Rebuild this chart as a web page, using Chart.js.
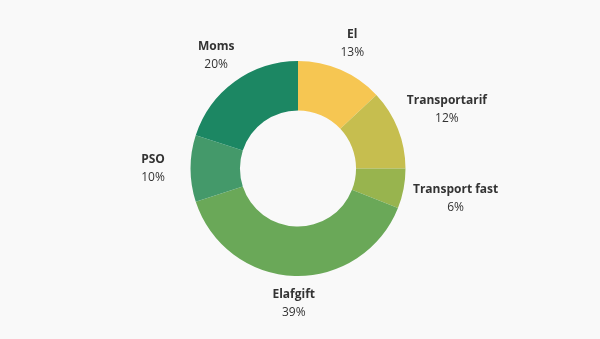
<!DOCTYPE html>
<html>
<head>
<meta charset="utf-8">
<script src="https://cdn.jsdelivr.net/npm/chart.js@4/dist/chart.umd.min.js"></script>
<style>
    html, body {
        margin: 0;
        padding: 0;
        background: #f9f9f9;
    }
    #wrap {
        width: 600px;
        height: 339px;
    }
</style>
</head>
<body>
<div id="wrap"><canvas id="udgifter"></canvas></div>
<script>
// Fordeling af elregningen
const labels = ['El', 'Transportarif', 'Transport fast', 'Elafgift', 'PSO', 'Moms'];
const shares = [13, 12, 6, 39, 10, 20];
const colors = ['#f6c652', '#c6be4f', '#98b44e', '#6aa858', '#44996a', '#1c8763'];

const FONT = '"Open Sans", sans-serif';

/**
 * Tegner navn + procent uden for hvert udsnit
 */
const outsideLabels = {
    id: 'outsideLabels',
    afterDatasetsDraw(chart) {
        const ctx = chart.ctx;
        const meta = chart.getDatasetMeta(0);
        const lineH = 18;
        const offset = 9.5;
        const minW = 56;

        ctx.save();
        ctx.fillStyle = '#333333';
        ctx.textAlign = 'center';
        ctx.textBaseline = 'middle';

        meta.data.forEach((arc, i) => {
            const { x, y, startAngle, endAngle, outerRadius } = arc.getProps(
                ['x', 'y', 'startAngle', 'endAngle', 'outerRadius'], true);
            const mid = (startAngle + endAngle) / 2;
            const vx = Math.cos(mid);
            const vy = Math.sin(mid);

            const name = labels[i];
            const pct = chart.data.datasets[0].data[i] + '%';

            ctx.font = 'bold 12px ' + FONT;
            const w1 = ctx.measureText(name).width;
            ctx.font = '12px ' + FONT;
            const w2 = ctx.measureText(pct).width;
            const hw = Math.max(w1, w2, minW) / 2;
            const hh = lineH;

            // boksen ligger på strålen, med kanten lige uden for ringen
            const tx = Math.abs(vx) > 1e-6 ? hw / Math.abs(vx) : Infinity;
            const ty = Math.abs(vy) > 1e-6 ? hh / Math.abs(vy) : Infinity;
            const dist = outerRadius + offset + Math.min(tx, ty);
            const cx = x + vx * dist;
            const cy = y + vy * dist;

            ctx.font = 'bold 12px ' + FONT;
            ctx.fillText(name, cx, cy - lineH / 2);
            ctx.font = '12px ' + FONT;
            ctx.fillText(pct, cx, cy + lineH / 2);
        });

        ctx.restore();
    }
};

new Chart(document.getElementById('udgifter'), {
    type: 'doughnut',
    data: {
        labels: labels,
        datasets: [{
            data: shares,
            backgroundColor: colors,
            borderWidth: 0
        }]
    },
    options: {
        responsive: true,
        maintainAspectRatio: false,
        animation: false,
        cutout: '54%',
        layout: {
            padding: { top: 61, bottom: 63, left: 0, right: 4 }
        },
        plugins: {
            legend: { display: false },
            tooltip: { enabled: false }
        }
    },
    plugins: [outsideLabels]
});
</script>
</body>
</html>
